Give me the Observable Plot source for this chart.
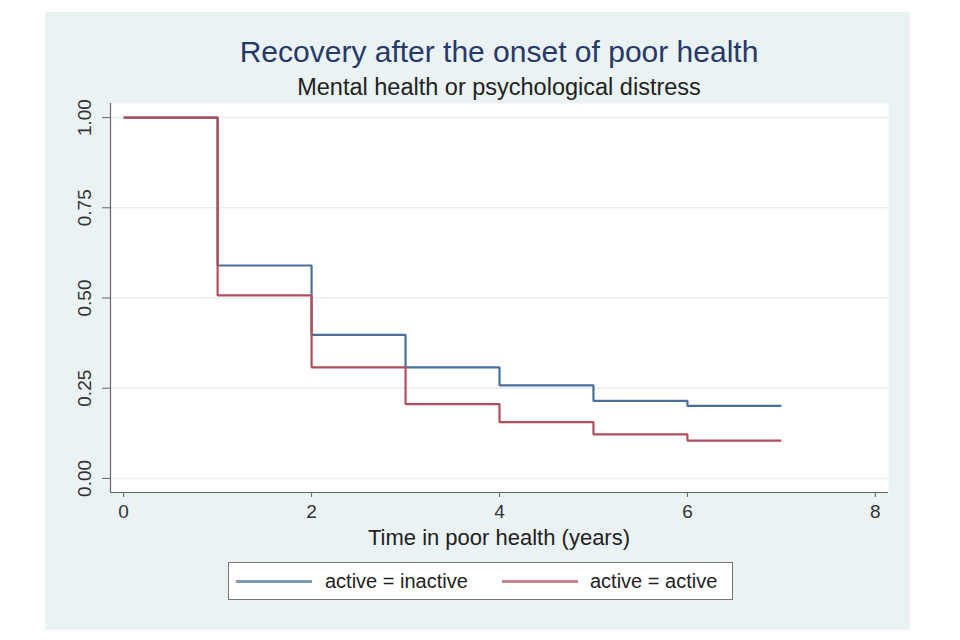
<!DOCTYPE html>
<html>
<head>
<meta charset="utf-8">
<script src="https://cdn.jsdelivr.net/npm/d3@7"></script>
<script src="https://cdn.jsdelivr.net/npm/@observablehq/plot@0.6"></script>
<style>
  html, body { margin: 0; padding: 0; background: #ffffff; width: 960px; height: 640px; overflow: hidden; }
  body { position: relative; font-family: "Liberation Sans", Arial, sans-serif; }
  #panel { position: absolute; left: 45px; top: 12px; width: 865px; height: 618px; background: #EAF2F3; }
  .t { position: absolute; left: 110px; width: 778px; text-align: center; white-space: nowrap; }
  #title { top: 35px; font-size: 30px; line-height: 34px; color: #27396A; }
  #subtitle { top: 74px; font-size: 23.5px; line-height: 26px; color: #222; }
  #xlabel { top: 525px; font-size: 22px; line-height: 26px; color: #222; }
  #chart { position: absolute; left: 0; top: 0; }
  #legend { position: absolute; left: 228px; top: 562px; width: 503px; height: 36px; background: #fff; border: 1px solid #777; }
  .sw { position: absolute; top: 17px; width: 76px; height: 2.5px; }
  .lt { position: absolute; top: 6px; font-size: 20px; line-height: 24px; color: #222; white-space: nowrap; }
</style>
</head>
<body>
<div id="panel"></div>
<div id="chart"></div>
<div class="t" id="title">Recovery after the onset of poor health</div>
<div class="t" id="subtitle">Mental health or psychological distress</div>
<div class="t" id="xlabel">Time in poor health (years)</div>
<div id="legend"></div>
<script>
// ---- data ----
const times = [0, 1, 2, 3, 4, 5, 6, 7];
const survInactive = [1.00, 0.590, 0.398, 0.308, 0.258, 0.215, 0.201, 0.201];
const survActive   = [1.00, 0.507, 0.308, 0.206, 0.156, 0.122, 0.105, 0.105];
const seriesNames = ["active = inactive", "active = active"];
const seriesColors = ["#4A6F98", "#B24E59"];
const xTicks = [0, 2, 4, 6, 8];
const yTicks = [0, 0.25, 0.5, 0.75, 1];
const xDomain = [-0.14, 8.14];
const yDomain = [-0.039, 1.039];

const rows = [];
times.forEach((t, i) => rows.push({time: t, surv: survInactive[i], group: seriesNames[0]}));
times.forEach((t, i) => rows.push({time: t, surv: survActive[i], group: seriesNames[1]}));

const chart = Plot.plot({
  width: 960,
  height: 640,
  marginLeft: 110,
  marginRight: 72,
  marginTop: 103,
  marginBottom: 148,
  style: { background: "transparent", fontFamily: "Liberation Sans, Arial, sans-serif" },
  x: { domain: xDomain },
  y: { domain: yDomain },
  color: { domain: seriesNames, range: seriesColors },
  marks: [
    Plot.frame({ fill: "white", stroke: "none" }),
    Plot.gridY(yTicks, { stroke: "#E6EFF1", strokeOpacity: 1, strokeWidth: 1.5 }),
    Plot.ruleX([xDomain[0]], { stroke: "#666", strokeWidth: 1.2 }),
    Plot.ruleY([yDomain[0]], { stroke: "#666", strokeWidth: 1.2 }),
    Plot.axisY(yTicks, { tickSize: 8, tickFormat: () => "", stroke: "#666", label: null }),
    Plot.text(yTicks, {
      x: xDomain[0], y: d => d, text: d => d3.format(".2f")(d),
      rotate: -90, dx: -26, textAnchor: "middle", fontSize: 19, fill: "#333"
    }),
    Plot.axisX(xTicks, { tickSize: 5, tickPadding: 7, fontSize: 19, stroke: "#666", color: "#333", label: null, tickFormat: d => String(d) }),
    Plot.line(rows, {
      x: "time", y: "surv", z: "group", stroke: "group",
      curve: "step-after", strokeWidth: 2.2, strokeLinejoin: "miter", strokeLinecap: "butt"
    })
  ]
});
document.getElementById("chart").appendChild(chart);

// legend
const legend = document.getElementById("legend");
const legendPos = [{sw: 7, tx: 96}, {sw: 273, tx: 361}];
seriesNames.forEach((name, i) => {
  const sw = document.createElement("div");
  sw.className = "sw";
  sw.style.left = legendPos[i].sw + "px";
  sw.style.background = seriesColors[i];
  sw.style.opacity = 0.7;
  legend.appendChild(sw);
  const tx = document.createElement("div");
  tx.className = "lt";
  tx.style.left = legendPos[i].tx + "px";
  tx.textContent = name;
  legend.appendChild(tx);
});
</script>
</body>
</html>
